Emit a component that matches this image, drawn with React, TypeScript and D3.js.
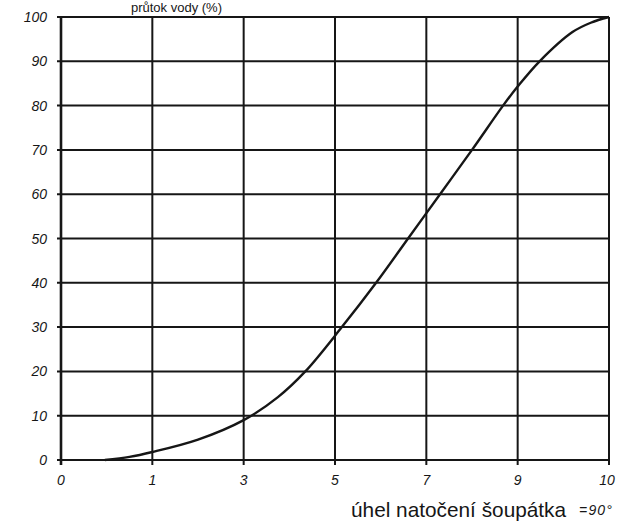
import React, { useRef, useEffect } from 'react';
import * as d3 from 'd3';

// x tick labels sit at equal spacing although the values are not evenly spaced
const xTicks = [0, 1, 3, 5, 7, 9, 10];
const yTicks = [0, 10, 20, 30, 40, 50, 60, 70, 80, 90, 100];

// curve
const angle = [0.48, 0.75, 1, 2, 3, 3.75, 4.35, 5.15, 5.9, 6.6, 7.3, 8.0, 8.68, 9, 9.24, 9.6, 9.8, 10];
const flow = [0, 0.7, 1.8, 4.6, 9, 14.2, 20, 30, 40, 50, 60, 70, 80, 84.3, 90, 96.6, 98.7, 100];

const W = 621;
const H = 523;
const left = 61;
const right = 609;
const top = 17;
const bottom = 460;

const App: React.FC = () => {
  const svgRef = useRef<SVGSVGElement | null>(null);

  useEffect(() => {
    if (!svgRef.current) return;
    const svg = d3.select(svgRef.current);
    svg.selectAll('*').remove();

    const step = (right - left) / (xTicks.length - 1);
    const xScale = d3.scaleLinear()
      .domain(xTicks)
      .range(xTicks.map((_, i) => left + i * step));
    const yScale = d3.scaleLinear().domain([0, 100]).range([bottom, top]);

    const ink = '#161616';
    const font = 'Liberation Sans, Arial, sans-serif';

    // horizontal grid + left ticks
    svg.append('g')
      .selectAll('line')
      .data(yTicks)
      .enter()
      .append('line')
      .attr('x1', left - 4)
      .attr('x2', right)
      .attr('y1', d => yScale(d))
      .attr('y2', d => yScale(d))
      .attr('stroke', ink)
      .attr('stroke-width', 2);

    // vertical grid + bottom ticks
    svg.append('g')
      .selectAll('line')
      .data(xTicks)
      .enter()
      .append('line')
      .attr('x1', d => xScale(d))
      .attr('x2', d => xScale(d))
      .attr('y1', top)
      .attr('y2', bottom + 5)
      .attr('stroke', ink)
      .attr('stroke-width', d => (d === 0 ? 2.6 : 2));

    // y labels
    svg.append('g')
      .selectAll('text')
      .data(yTicks)
      .enter()
      .append('text')
      .attr('x', 47)
      .attr('y', d => yScale(d))
      .attr('dy', '0.36em')
      .attr('text-anchor', 'end')
      .attr('font-family', font)
      .attr('font-style', 'italic')
      .attr('font-size', 14)
      .attr('fill', ink)
      .text(d => d);

    // x labels
    svg.append('g')
      .selectAll('text')
      .data(xTicks)
      .enter()
      .append('text')
      .attr('x', (d, i) => xScale(d) + (i === xTicks.length - 1 ? -2 : 0))
      .attr('y', 485)
      .attr('text-anchor', 'middle')
      .attr('font-family', font)
      .attr('font-style', 'italic')
      .attr('font-size', 14)
      .attr('fill', ink)
      .text(d => d);

    // curve
    const line = d3.line<number>()
      .x((_, i) => xScale(angle[i]))
      .y(d => yScale(d))
      .curve(d3.curveCatmullRom.alpha(0.5));

    svg.append('path')
      .datum(flow)
      .attr('d', line)
      .attr('fill', 'none')
      .attr('stroke', ink)
      .attr('stroke-width', 2.4);

    // axis titles
    svg.append('text')
      .attr('x', 222)
      .attr('y', 12)
      .attr('text-anchor', 'end')
      .attr('font-family', font)
      .attr('font-size', 13)
      .attr('fill', ink)
      .text('průtok vody (%)');

    svg.append('text')
      .attr('x', 351)
      .attr('y', 517)
      .attr('font-family', font)
      .attr('font-size', 20.8)
      .attr('fill', ink)
      .text('úhel natočení šoupátka');

    svg.append('text')
      .attr('x', 579)
      .attr('y', 515)
      .attr('font-family', font)
      .attr('font-style', 'italic')
      .attr('font-size', 14)
      .attr('letter-spacing', 1.2)
      .attr('fill', ink)
      .text('=90°');
  }, []);

  return (
    <svg
      ref={svgRef}
      width={W}
      height={H}
      style={{ position: 'absolute', left: 0, top: 0, background: '#fff' }}
    ></svg>
  );
};

export default App;
